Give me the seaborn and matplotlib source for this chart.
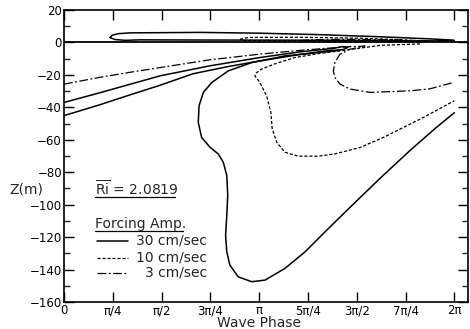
import numpy as np
import pandas as pd
import matplotlib
matplotlib.use("Agg")
import matplotlib.pyplot as plt
import seaborn as sns

# ---- data (phase in multiples of pi, depth Z in m) ----
lens30_phase = [0.236, 0.246, 0.277, 0.338, 0.697, 1.004, 1.311, 1.619, 1.875, 1.998,
                2.0, 1.619, 1.209, 0.697, 0.389, 0.313, 0.261, 0.236]
lens30_z = [3.0, 4.4, 5.4, 5.9, 6.2, 5.7, 4.8, 3.5, 2.2, 1.4,
            0.9, 1.2, 1.4, 1.5, 1.6, 1.3, 1.8, 3.0]

lens10_phase = [0.902, 0.925, 0.953, 1.209, 1.516, 1.700, 1.788, 1.700, 1.516, 1.209, 0.953, 0.925, 0.902]
lens10_z = [1.9, 2.7, 3.1, 3.2, 2.6, 1.8, 1.0, 0.7, 0.6, 0.8, 1.0, 1.2, 1.9]

lens3_phase = [1.209, 1.260, 1.414, 1.72, 1.80, 1.85, 1.62, 1.31, 1.209]
lens3_z = [1.1, 1.6, 1.9, 1.6, 1.2, 0.6, 0.3, 0.3, 1.1]

left30_phase = [0, 0.184, 0.338, 0.492, 0.748, 1.004, 1.209, 1.378, 1.429, 1.455,
                1.429, 1.347, 1.209, 1.004, 0.835, 0.661, 0.492, 0.323, 0.184, 0]
left30_z = [-37.0, -31.0, -25.8, -20.6, -14.4, -9.3, -5.8, -3.7, -2.5, -3.1,
            -4.4, -5.2, -7.4, -11.4, -15.0, -19.3, -26.4, -32.9, -38.4, -45.1]

big30_phase = [1.414, 1.311, 1.260, 1.132, 0.962, 0.842, 0.757, 0.714, 0.692, 0.688, 0.705, 0.748, 0.790,
               0.816, 0.834, 0.839, 0.834, 0.828, 0.834, 0.850, 0.893, 0.962, 1.030, 1.132, 1.235, 1.337,
               1.465, 1.619, 1.773, 1.901, 2.0]
big30_z = [-4.9, -6.1, -6.8, -8.3, -12.4, -17.5, -24.7, -30.8, -39.0, -49.3, -58.5, -64.6, -68.7,
           -73.8, -82.0, -94.3, -106.6, -118.9, -129.1, -137.3, -144.5, -147.5, -146.5, -139.3, -129.1, -116.8,
           -101.7, -83.8, -66.6, -53.1, -43.3]

mid10_phase = [1.824, 1.619, 1.450, 1.311, 1.183, 1.081, 1.014, 0.987, 0.978, 1.004, 1.038, 1.060, 1.067,
               1.090, 1.132, 1.200, 1.303, 1.388, 1.516, 1.634, 1.839, 2.0]
mid10_z = [-0.9, -1.8, -4.6, -6.8, -9.3, -13.2, -16.3, -18.6, -20.6, -24.7, -32.9, -43.1, -53.3,
           -61.5, -67.7, -70.1, -70.1, -68.7, -64.8, -58.7, -46.4, -35.9]

low3_phase = [0, 0.184, 0.338, 0.492, 0.748, 1.004, 1.209, 1.347, 1.465, 1.542,
              1.465, 1.414, 1.388, 1.380, 1.388, 1.414, 1.465, 1.568, 1.773, 1.875, 1.994]
low3_z = [-25.7, -21.5, -18.4, -15.5, -10.7, -7.2, -4.9, -3.6, -2.6, -2.3,
          -4.2, -7.2, -12.4, -17.5, -21.6, -25.7, -28.7, -30.8, -29.8, -28.6, -24.7]

xtick_labels = ["0", "π/4", "π/2", "3π/4", "π", "5π/4", "3π/2", "7π/4", "2π"]
ytick_values = [20, 0, -20, -40, -60, -80, -100, -120, -140, -160]
legend_labels = ["30 cm/sec", "10 cm/sec", "3 cm/sec"]

sns.set_theme(style="ticks")
plt.rcParams["font.family"] = ["DejaVu Sans"]

fig = plt.figure(figsize=(4.7, 3.29), dpi=100)
ax = fig.add_axes([64 / 470, 1 - 302 / 329, 404 / 470, 292 / 329])

styles = {
    "30": dict(color="black", lw=1.1),
    "10": dict(color="black", lw=0.9, dashes=(2.5, 1.5)),
    "3": dict(color="black", lw=0.9, dashes=(7, 2, 1.5, 2)),
}

curves = [
    (lens30_phase, lens30_z, "30"),
    (left30_phase, left30_z, "30"),
    (big30_phase, big30_z, "30"),
    (lens10_phase, lens10_z, "10"),
    (mid10_phase, mid10_z, "10"),
    (lens3_phase, lens3_z, "3"),
    (low3_phase, low3_z, "3"),
]

for ph, z, key in curves:
    df = pd.DataFrame({"phase": np.array(ph) * np.pi, "z": z})
    st = styles[key]
    sns.lineplot(data=df, x="phase", y="z", sort=False, estimator=None, ax=ax,
                 color=st["color"], lw=st["lw"])
    l = ax.lines[-1]
    l.set_solid_joinstyle("round")
    if "dashes" in st:
        l.set_dashes(st["dashes"])

ax.axhline(0, color="black", lw=1.3)

ax.set_xlim(0, 2.07 * np.pi)
ax.set_ylim(-160, 20)
ax.set_xticks(np.arange(9) * np.pi / 4)
ax.set_xticklabels(xtick_labels)
ax.set_yticks(ytick_values)
ax.set_yticks(np.arange(-150, 20, 20), minor=True)
ax.tick_params(axis="both", which="major", direction="in", length=7, width=1, labelsize=8.5, pad=1.5,
               top=True, right=True, colors="black")
ax.tick_params(axis="y", which="minor", direction="in", length=4, width=1, right=True, left=True)
for s in ax.spines.values():
    s.set_visible(True)
    s.set_linewidth(1.2)
    s.set_color("black")

ax.set_xlabel("Wave Phase", fontsize=10, labelpad=0)
ax.xaxis.set_label_coords(0.483, -0.048)
ax.set_ylabel("Z(m)", fontsize=10, rotation=0, va="center", ha="center")
ax.yaxis.set_label_coords(-0.094, 0.384)

# annotations
ax.text(0.077, 0.387, r"$\overline{\mathrm{Ri}}$ = 2.0819", transform=ax.transAxes, fontsize=10, va="center", ha="left")
ax.plot([0.077, 0.275], [0.358, 0.358], transform=ax.transAxes, color="black", lw=0.9)
ax.text(0.077, 0.267, "Forcing Amp.", transform=ax.transAxes, fontsize=10, va="center", ha="left")
ax.plot([0.077, 0.295], [0.243, 0.243], transform=ax.transAxes, color="black", lw=0.9)

key_y = [0.209, 0.152, 0.100]
for lab, ky, key in zip(legend_labels, key_y, ["30", "10", "3"]):
    st = styles[key]
    (kl,) = ax.plot([0.082, 0.158], [ky, ky], transform=ax.transAxes, color="black", lw=st["lw"])
    if "dashes" in st:
        kl.set_dashes(st["dashes"])
    ax.text(0.354, ky, lab, transform=ax.transAxes, fontsize=10, va="center", ha="right")

fig.savefig("out.png", dpi=100, facecolor="white")
